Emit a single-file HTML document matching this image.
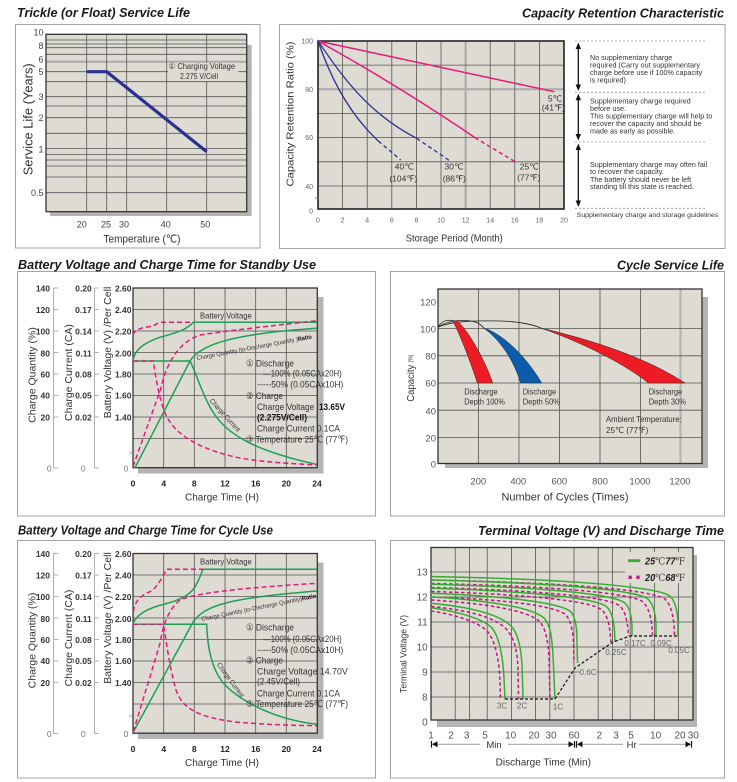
<!DOCTYPE html>
<html><head><meta charset="utf-8"><style>
html,body{margin:0;padding:0;background:#fff;}
svg{display:block;}
text{font-family:"Liberation Sans","DejaVu Sans","Noto Sans CJK JP",sans-serif;}
.ttl{font-size:13px;font-weight:bold;font-style:italic;fill:#1a1a1a;}
</style></head><body>
<svg width="737" height="782" viewBox="0 0 737 782" xmlns="http://www.w3.org/2000/svg">
<rect width="737" height="782" fill="#fff"/>

<!-- panels first -->
<rect x="15.5" y="24.5" width="244.5" height="223.5" fill="#fff" stroke="#a3a3a3"/>
<rect x="279.5" y="24.5" width="445.5" height="224" fill="#fff" stroke="#a3a3a3"/>
<rect x="17.5" y="271.5" width="358" height="244.5" fill="#fff" stroke="#a3a3a3"/>
<rect x="390.5" y="271.5" width="334" height="244.5" fill="#fff" stroke="#a3a3a3"/>
<rect x="17.5" y="540.5" width="358" height="237.5" fill="#fff" stroke="#a3a3a3"/>
<rect x="390.5" y="540.5" width="334" height="237.5" fill="#fff" stroke="#a3a3a3"/>

<!-- titles -->
<text class="ttl" x="17" y="17" textLength="173" lengthAdjust="spacingAndGlyphs">Trickle (or Float) Service Life</text>
<text class="ttl" x="724" y="17.5" text-anchor="end" textLength="202" lengthAdjust="spacingAndGlyphs">Capacity Retention Characteristic</text>
<text class="ttl" x="18" y="269" textLength="298" lengthAdjust="spacingAndGlyphs">Battery Voltage and Charge Time for Standby Use</text>
<text class="ttl" x="724" y="269.5" text-anchor="end" textLength="107" lengthAdjust="spacingAndGlyphs">Cycle Service Life</text>
<text class="ttl" x="18" y="534.5" textLength="255" lengthAdjust="spacingAndGlyphs">Battery Voltage and Charge Time for Cycle Use</text>
<text class="ttl" x="724" y="535" text-anchor="end" textLength="246" lengthAdjust="spacingAndGlyphs">Terminal Voltage (V) and Discharge Time</text>

<!-- ============ CHART 1 ============ -->
<rect x="50" y="45" width="201.7" height="171" fill="#b4b4b4"/>
<rect x="46" y="34.3" width="200.7" height="177.4" fill="#dedbd3"/>
<path d="M46 61.7H246.7" stroke="#a9a9a9" stroke-width="2"/>
<path d="M46 40H246.7M46 44H246.7M46 47.7H246.7M46 54.3H246.7M46 71.7H246.7M46 81.7H246.7M46 96.7H246.7M46 106H246.7M46 117.7H246.7M46 133.3H246.7M46 148.5H246.7M46 154.5H246.7M46 160H246.7M46 166H246.7M46 177H246.7M46 192.7H246.7M86.7 34.3V211.7M106.7 34.3V211.7M126.7 34.3V211.7M166.7 34.3V211.7M206.7 34.3V211.7" stroke="#555" stroke-width="0.8" fill="none"/>
<rect x="46" y="34.3" width="200.7" height="177.4" fill="none" stroke="#333" stroke-width="1.3"/>
<rect x="168" y="62.7" width="70.5" height="18.3" fill="#dedbd3"/>
<text x="168.5" y="68.8" font-size="8.5" fill="#333" textLength="66.5" lengthAdjust="spacingAndGlyphs">① Charging Voltage</text>
<text x="180" y="78.8" font-size="8.5" fill="#333" textLength="38" lengthAdjust="spacingAndGlyphs">2.275 V/Cell</text>
<polyline points="86.7,71.7 106.7,71.7 206.7,151.7" fill="none" stroke="#2b3090" stroke-width="3.2"/>
<g font-size="9" fill="#444" text-anchor="end">
<text x="43.5" y="35.5">10</text><text x="43.5" y="48.9">8</text><text x="43.5" y="62.5">6</text><text x="43.5" y="74.9">5</text><text x="43.5" y="100">3</text><text x="43.5" y="121">2</text><text x="43.5" y="152.3">1</text><text x="43.5" y="196">0.5</text>
</g>
<g font-size="9" fill="#444" text-anchor="middle">
<text x="81.7" y="227.5">20</text><text x="106" y="227.5">25</text><text x="124" y="227.5">30</text><text x="165.7" y="227.5">40</text><text x="205.3" y="227.5">50</text>
</g>
<text x="142" y="242.3" font-size="11" fill="#333" text-anchor="middle" textLength="77" lengthAdjust="spacingAndGlyphs">Temperature (℃)</text>
<text transform="translate(32.6,119.3) rotate(-90)" font-size="12.5" fill="#333" text-anchor="middle" textLength="112" lengthAdjust="spacingAndGlyphs">Service Life (Years)</text>

<!-- ============ CHART 2 ============ -->
<rect x="318" y="41" width="246" height="168" fill="#dedbd3"/>
<path d="M318 89.3H564M465.6 41V209" stroke="#aaa" stroke-width="2"/>
<path d="M318 65.1H564M318 113.4H564M318 137.6H564M318 161.8H564M318 186H564M342.6 41V209M367.2 41V209M391.8 41V209M416.4 41V209M441 41V209M490.2 41V209M514.8 41V209M539.4 41V209" stroke="#555" stroke-width="0.8" fill="none"/>
<rect x="318" y="41" width="246" height="168" fill="none" stroke="#222" stroke-width="1.6"/>
<g fill="none" stroke-width="1.5">
<path d="M318,41 L554.3,91.7" stroke="#e8177d"/>
<path d="M318,41 C370,70 420,100 475,137.7" stroke="#e8177d"/>
<path d="M475,137.7 L515,161.7" stroke="#e8177d" stroke-dasharray="4,3"/>
<path d="M318,41 C338,70 365,112 416.7,138.3" stroke="#2e3192" stroke-width="1.3"/>
<path d="M416.7,138.3 L450,161" stroke="#2e3192" stroke-width="1.3" stroke-dasharray="4,3"/>
<path d="M318,41 C328,70 345,110 378.3,141" stroke="#2e3192" stroke-width="1.3"/>
<path d="M378.3,141 L400.7,160" stroke="#2e3192" stroke-width="1.3" stroke-dasharray="4,3"/>
</g>
<g font-size="8.5" fill="#333" text-anchor="middle">
<text x="555" y="101.3">5℃</text><text x="553.3" y="110.3">(41℉)</text>
<text x="404.3" y="169.7">40℃</text><text x="403.3" y="181.3">(104℉)</text>
<text x="454" y="169.7">30℃</text><text x="454.3" y="181.3">(86℉)</text>
<text x="529.3" y="169.7">25℃</text><text x="528.7" y="180.3">(77℉)</text>
</g>
<g font-size="7" fill="#666" text-anchor="end">
<text x="313" y="43.5">100</text><text x="313" y="91.8">80</text><text x="313" y="140">60</text><text x="313" y="189">40</text><text x="313" y="213.5">0</text>
</g>
<text x="316.5" y="200.5" font-size="7" fill="#888" text-anchor="middle">≈</text>
<g font-size="7" fill="#666" text-anchor="middle">
<text x="318" y="222.5">0</text><text x="342.6" y="222.5">2</text><text x="367.2" y="222.5">4</text><text x="391.8" y="222.5">6</text><text x="416.4" y="222.5">8</text><text x="441" y="222.5">10</text><text x="465.6" y="222.5">12</text><text x="490.2" y="222.5">14</text><text x="514.8" y="222.5">16</text><text x="539.4" y="222.5">18</text><text x="564" y="222.5">20</text>
</g>
<text x="454.3" y="241.5" font-size="10.5" fill="#333" text-anchor="middle" textLength="97" lengthAdjust="spacingAndGlyphs">Storage Period (Month)</text>
<text transform="translate(293.5,114) rotate(-90)" font-size="10.5" fill="#333" text-anchor="middle" textLength="145" lengthAdjust="spacingAndGlyphs">Capacity Retention Ratio (%)</text>
<path d="M575 41H707M575 92.3H707M575 142H707M575 208.3H707" stroke="#999" stroke-width="0.8" stroke-dasharray="2,2"/>
<path d="M578.3 46V88M578.3 97V137M578.3 147V203" stroke="#111" stroke-width="1.3"/>
<g fill="#111">
<polygon points="578.3,42.5 575.6,49 581,49"/><polygon points="578.3,91 575.6,84.5 581,84.5"/>
<polygon points="578.3,93.8 575.6,100.3 581,100.3"/><polygon points="578.3,140.5 575.6,134 581,134"/>
<polygon points="578.3,143.5 575.6,150 581,150"/><polygon points="578.3,207 575.6,200.5 581,200.5"/>
</g>
<g font-size="7.2" fill="#333">
<text x="590" y="59.8">No supplementary charge</text>
<text x="590" y="67.5" textLength="110" lengthAdjust="spacingAndGlyphs">required (Carry out supplementary</text>
<text x="590" y="75.2">charge before use if 100% capacity</text>
<text x="590" y="82.5">is required)</text>
<text x="590" y="103.5">Supplementary charge required</text>
<text x="590" y="111.2">before use.</text>
<text x="590" y="118.5">This supplementary charge will help to</text>
<text x="590" y="125.8">recover  the capacity and should be</text>
<text x="590" y="133.5">made as early as possible.</text>
<text x="590" y="166.8">Supplementary charge may often fail</text>
<text x="590" y="174.2">to recover the capacity.</text>
<text x="590" y="181.8">The battery should never be left</text>
<text x="590" y="189.2">standing till this state is reached.</text>
</g>
<text x="576.7" y="217" font-size="6" fill="#333" textLength="141.7" lengthAdjust="spacingAndGlyphs">Supplementary charge and storage guidelines</text>

<!-- ============ CHART 3 (Standby) ============ -->
<g>
<rect x="138" y="297" width="185.5" height="176.5" fill="#b4b4b4"/>
<rect x="133" y="288" width="184.3" height="179.7" fill="#dedbd3"/>
<path d="M163.7 288V467.7M194.3 288V467.7M225 288V467.7M255.7 288V467.7M286.3 288V467.7M133 309.5H317.3M133 331H317.3M133 352.5H317.3M133 374H317.3M133 395.5H317.3M133 417H317.3M133 438.5H317.3" stroke="#555" stroke-width="0.8" fill="none"/>
<rect x="133" y="288" width="184.3" height="179.7" fill="none" stroke="#333" stroke-width="1.3"/>
<path d="M53.5 288V468M53.5 288H58.5M53.5 309.5H58.5M53.5 331H58.5M53.5 352.5H58.5M53.5 374H58.5M53.5 395.5H58.5M53.5 417H58.5M53.5 468H58.5M94.5 288V468M94.5 288H99M94.5 309.5H99M94.5 331H99M94.5 352.5H99M94.5 374H99M94.5 395.5H99M94.5 417H99M94.5 468H99" stroke="#9a9a9a" stroke-width="0.8" fill="none"/>
<g font-size="8.5" font-weight="bold" fill="#333" text-anchor="end">
<text x="50" y="291.3">140</text><text x="50" y="313">120</text><text x="50" y="334.7">100</text><text x="50" y="356.3">80</text><text x="50" y="377.3">60</text><text x="50" y="398.7">40</text><text x="50" y="420.3">20</text>
<text x="91.7" y="291.3">0.20</text><text x="91.7" y="313">0.17</text><text x="91.7" y="334.7">0.14</text><text x="91.7" y="356.3">0.11</text><text x="91.7" y="377.3">0.08</text><text x="91.7" y="398.7">0.05</text><text x="91.7" y="420.3">0.02</text>
<text x="131.5" y="291.3">2.60</text><text x="131.5" y="313">2.40</text><text x="131.5" y="334.7">2.20</text><text x="131.5" y="356.3">2.00</text><text x="131.5" y="377.3">1.80</text><text x="131.5" y="398.7">1.60</text><text x="131.5" y="420.3">1.40</text>
</g>
<g font-size="8.5" fill="#777" text-anchor="middle">
<text x="49.3" y="471.3">0</text><text x="83.3" y="471.3">0</text><text x="126" y="471.3">0</text>
</g>
<text x="131" y="455" font-size="7" fill="#888" text-anchor="middle">≈</text>
<g font-size="8.5" font-weight="bold" fill="#222" text-anchor="middle">
<text x="133" y="486.5">0</text><text x="163.7" y="486.5">4</text><text x="194.3" y="486.5">8</text><text x="225" y="486.5">12</text><text x="255.7" y="486.5">16</text><text x="286.3" y="486.5">20</text><text x="317" y="486.5">24</text>
</g>
<text x="222" y="500.5" font-size="10" fill="#333" text-anchor="middle" textLength="74" lengthAdjust="spacingAndGlyphs">Charge Time (H)</text>
<text transform="translate(35.5,375) rotate(-90)" font-size="10.5" fill="#333" text-anchor="middle">Charge Quantity (%)</text>
<text transform="translate(72,372.5) rotate(-90)" font-size="10.5" fill="#333" text-anchor="middle">Charge Current (CA)</text>
<text transform="translate(110.8,352.5) rotate(-90)" font-size="10.5" fill="#333" text-anchor="middle" textLength="131.6" lengthAdjust="spacingAndGlyphs">Battery Voltage (V) /Per Cell</text>
</g>

<g fill="none" stroke-width="1.5">
<path d="M133,360 C135,350 143,343 160,337.3 C175,333 185,331 193.3,322.3 L317,322.3" stroke="#1f9e55"/>
<path d="M133,361 L190,361 C196,372 203,398 215,415 C230,437 260,452 317,464.5" stroke="#1f9e55"/>
<path d="M135,467.7 L190,361 C200,345 230,334 317,328.3" stroke="#1f9e55"/>
<path d="M133,335 C134,330 140,328 150,326.5 C155,326 157,323 160,322.3 L193,322.3" stroke="#e8197e" stroke-dasharray="5,3"/>
<path d="M133,466.7 L161,388 C166,365 178,342 200,335 C233,330 270,326 317,320.7" stroke="#e8197e" stroke-dasharray="5,3"/>
<path d="M133,361 L153.3,361 C156,380 161,410 170,422 C182,440 210,452 240,458 C270,463 300,464 317,465" stroke="#e8197e" stroke-dasharray="5,3"/>
</g>
<text x="200" y="318.7" font-size="8.5" fill="#333" textLength="51.7" lengthAdjust="spacingAndGlyphs">Battery Voltage</text>
<text transform="translate(197,360) rotate(-10.6)" font-size="6" fill="#333" textLength="117" lengthAdjust="spacingAndGlyphs">Charge Quantity (to-Discharge Quantity )<tspan font-weight="bold" fill="#111">Ratio</tspan></text>
<text transform="translate(223.3,416.7) rotate(48)" font-size="7" fill="#333" text-anchor="middle" textLength="42" lengthAdjust="spacingAndGlyphs">Charge Current</text>
<g font-size="9.5" fill="#333">
<text x="246" y="366.6" textLength="48" lengthAdjust="spacingAndGlyphs">① Discharge</text>
<text x="263" y="376.6" textLength="78.7" lengthAdjust="spacingAndGlyphs">—100% (0.05CAx20H)</text>
<text x="257.3" y="387.6" textLength="86" lengthAdjust="spacingAndGlyphs">-----50% (0.05CAx10H)</text>
<text x="246" y="399" textLength="37" lengthAdjust="spacingAndGlyphs">② Charge</text>
<text x="257" y="410" textLength="57.3" lengthAdjust="spacingAndGlyphs">Charge Voltage</text>
<text x="319" y="410" font-weight="bold" fill="#111" textLength="26" lengthAdjust="spacingAndGlyphs">13.65V</text>
<text x="257" y="420.6" font-weight="bold" fill="#111" textLength="50" lengthAdjust="spacingAndGlyphs">(2.275V/Cell)</text>
<text x="257" y="431.6" textLength="83" lengthAdjust="spacingAndGlyphs">Charge Current 0.1CA</text>
<text x="246" y="442.3" textLength="102" lengthAdjust="spacingAndGlyphs">③ Temperature 25℃ (77℉)</text>
</g>

<!-- ============ CHART 4 (Cycle Service Life) ============ -->
<rect x="445" y="297" width="263" height="171" fill="#b4b4b4"/>
<rect x="438" y="289" width="264" height="174.5" fill="#dedbd3"/>
<path d="M680.5 289V463.5" stroke="#b3b3b3" stroke-width="2.2"/>
<path d="M478.5 289V463.5M519 289V463.5M559.5 289V463.5M600 289V463.5M640.5 289V463.5M438 328.6H702M438 355.8H702M438 383H702M438 410.2H702M438 437.4H702" stroke="#555" stroke-width="0.8" fill="none"/>
<rect x="438" y="289" width="264" height="174.5" fill="none" stroke="#333" stroke-width="1.3"/>
<g fill="none" stroke="#222" stroke-width="0.8">
<path d="M438.3,327 C441,322 446,319.5 453,320.5"/>
<path d="M438.3,327 C450,319 468,319 478,323 C481,325 483,327 485,329"/>
<path d="M438.3,327 C452,321 475,320.5 500,321 C520,321.5 535,325 543.3,329"/>
</g>
<path d="M452.7,320.7 C458,330 470,360 477.3,383 L492.7,383 C485,360 468,330 457,320.7 Z" fill="#ed1c24" stroke="#222" stroke-width="0.5"/>
<path d="M485,329 C497,338 512,355 520.7,383 L541.7,383 C528,360 508,338 487,329 Z" fill="#0b5cad" stroke="#222" stroke-width="0.5"/>
<path d="M543.3,329 C570,338 620,360 648.3,383 L685,383 C650,360 600,342 545,329 Z" fill="#ed1c24" stroke="#222" stroke-width="0.5"/>
<g font-size="9.5" fill="#555" text-anchor="end">
<text x="436" y="305.3">120</text><text x="436" y="332.3">100</text><text x="436" y="359.3">80</text><text x="436" y="386.3">60</text><text x="436" y="414.3">40</text><text x="436" y="441.3">20</text><text x="436" y="467.3">0</text>
</g>
<g font-size="9.5" fill="#555" text-anchor="middle">
<text x="478.3" y="484.3">200</text><text x="518.3" y="484.3">400</text><text x="559.3" y="484.3">600</text><text x="600" y="484.3">800</text><text x="640" y="484.3">1000</text><text x="680" y="484.3">1200</text>
</g>
<text x="565" y="500.7" font-size="11" fill="#333" text-anchor="middle" textLength="127" lengthAdjust="spacingAndGlyphs">Number of Cycles (Times)</text>
<text transform="translate(413.8,401.7) rotate(-90)" font-size="10.5" fill="#333" textLength="37" lengthAdjust="spacingAndGlyphs">Capacity</text>
<text transform="translate(412.5,362.5) rotate(-90)" font-size="6" fill="#333" textLength="8" lengthAdjust="spacingAndGlyphs">(%)</text>
<g font-size="8.5" fill="#333">
<text x="464.3" y="394.7" textLength="33.4" lengthAdjust="spacingAndGlyphs">Discharge</text>
<text x="464.3" y="404.7" textLength="40.7" lengthAdjust="spacingAndGlyphs">Depth 100%</text>
<text x="522.7" y="394.7" textLength="33.4" lengthAdjust="spacingAndGlyphs">Discharge</text>
<text x="522.7" y="404.7" textLength="37.3" lengthAdjust="spacingAndGlyphs">Depth 50%</text>
<text x="648.7" y="394.7" textLength="33.4" lengthAdjust="spacingAndGlyphs">Discharge</text>
<text x="648.7" y="404.7" textLength="37.3" lengthAdjust="spacingAndGlyphs">Depth 30%</text>
<text x="606" y="422" textLength="75.7" lengthAdjust="spacingAndGlyphs">Ambient Temperature:</text>
<text x="606" y="433" textLength="42.3" lengthAdjust="spacingAndGlyphs">25℃  (77℉)</text>
</g>

<!-- ============ CHART 5 (Cycle Use) ============ -->
<g transform="translate(0,265.5)">
<rect x="138" y="297" width="185.5" height="176.5" fill="#b4b4b4"/>
<rect x="133" y="288" width="184.3" height="179.7" fill="#dedbd3"/>
<path d="M163.7 288V467.7M194.3 288V467.7M225 288V467.7M255.7 288V467.7M286.3 288V467.7M133 309.5H317.3M133 331H317.3M133 352.5H317.3M133 374H317.3M133 395.5H317.3M133 417H317.3M133 438.5H317.3" stroke="#555" stroke-width="0.8" fill="none"/>
<rect x="133" y="288" width="184.3" height="179.7" fill="none" stroke="#333" stroke-width="1.3"/>
<path d="M53.5 288V468M53.5 288H58.5M53.5 309.5H58.5M53.5 331H58.5M53.5 352.5H58.5M53.5 374H58.5M53.5 395.5H58.5M53.5 417H58.5M53.5 468H58.5M94.5 288V468M94.5 288H99M94.5 309.5H99M94.5 331H99M94.5 352.5H99M94.5 374H99M94.5 395.5H99M94.5 417H99M94.5 468H99" stroke="#9a9a9a" stroke-width="0.8" fill="none"/>
<g font-size="8.5" font-weight="bold" fill="#333" text-anchor="end">
<text x="50" y="291.3">140</text><text x="50" y="313">120</text><text x="50" y="334.7">100</text><text x="50" y="356.3">80</text><text x="50" y="377.3">60</text><text x="50" y="398.7">40</text><text x="50" y="420.3">20</text>
<text x="91.7" y="291.3">0.20</text><text x="91.7" y="313">0.17</text><text x="91.7" y="334.7">0.14</text><text x="91.7" y="356.3">0.11</text><text x="91.7" y="377.3">0.08</text><text x="91.7" y="398.7">0.05</text><text x="91.7" y="420.3">0.02</text>
<text x="131.5" y="291.3">2.60</text><text x="131.5" y="313">2.40</text><text x="131.5" y="334.7">2.20</text><text x="131.5" y="356.3">2.00</text><text x="131.5" y="377.3">1.80</text><text x="131.5" y="398.7">1.60</text><text x="131.5" y="420.3">1.40</text>
</g>
<g font-size="8.5" fill="#777" text-anchor="middle">
<text x="49.3" y="471.3">0</text><text x="83.3" y="471.3">0</text><text x="126" y="471.3">0</text>
</g>
<text x="131" y="453" font-size="7" fill="#888" text-anchor="middle">≈</text>
<g font-size="8.5" font-weight="bold" fill="#222" text-anchor="middle">
<text x="133" y="486.5">0</text><text x="163.7" y="486.5">4</text><text x="194.3" y="486.5">8</text><text x="225" y="486.5">12</text><text x="255.7" y="486.5">16</text><text x="286.3" y="486.5">20</text><text x="317" y="486.5">24</text>
</g>
<text x="222" y="500.5" font-size="10" fill="#333" text-anchor="middle" textLength="74" lengthAdjust="spacingAndGlyphs">Charge Time (H)</text>
<text transform="translate(35.5,375) rotate(-90)" font-size="10.5" fill="#333" text-anchor="middle">Charge Quantity (%)</text>
<text transform="translate(72,372.5) rotate(-90)" font-size="10.5" fill="#333" text-anchor="middle">Charge Current (CA)</text>
<text transform="translate(110.8,352.5) rotate(-90)" font-size="10.5" fill="#333" text-anchor="middle" textLength="131.6" lengthAdjust="spacingAndGlyphs">Battery Voltage (V) /Per Cell</text>
</g>
<g fill="none" stroke-width="1.5">
<path d="M133,623.5 C137,614 148,608 165,604 C180,600 190,595 195,587 C199,580 201,574 203,569.3 L317,569.3" stroke="#1f9e55"/>
<path d="M133,624.3 L206.7,624.3 C207.5,650 213,672 225,685 C245,705 280,720 317,724.3" stroke="#1f9e55"/>
<path d="M133.3,732 L193.3,621.7 C205,605 230,598 317,591" stroke="#1f9e55"/>
<path d="M133.3,611.7 C135,600 142,595 150,591.7 C156,589 162,578 166.7,569.3 L203,569.3" stroke="#e8197e" stroke-dasharray="5,3"/>
<path d="M133.3,731.7 L160,643.6 C163,625 168,610 180,600 C195,593 240,588 317,583.3" stroke="#e8197e" stroke-dasharray="5,3"/>
<path d="M133.3,624.3 L163.3,624.3 C166,640 170,670 176,690 C183,710 200,717 235,722 C270,725 300,725.5 317,725.7" stroke="#e8197e" stroke-dasharray="5,3"/>
</g>
<text x="200" y="564.7" font-size="8.5" fill="#333" textLength="51.7" lengthAdjust="spacingAndGlyphs">Battery Voltage</text>
<text transform="translate(201.7,621) rotate(-11.5)" font-size="6" fill="#333" textLength="117" lengthAdjust="spacingAndGlyphs">Charge Quantity (to-Discharge Quantity)<tspan font-weight="bold" fill="#111">Ratio</tspan></text>
<text transform="translate(228.7,681.3) rotate(53.7)" font-size="7" fill="#333" text-anchor="middle" textLength="41" lengthAdjust="spacingAndGlyphs">Charge Current</text>
<g font-size="9.5" fill="#333">
<text x="246" y="630.7" textLength="48" lengthAdjust="spacingAndGlyphs">① Discharge</text>
<text x="263" y="642" textLength="78.7" lengthAdjust="spacingAndGlyphs">—100% (0.05CAx20H)</text>
<text x="257.3" y="653" textLength="86" lengthAdjust="spacingAndGlyphs">-----50% (0.05CAx10H)</text>
<text x="246" y="663.7" textLength="37" lengthAdjust="spacingAndGlyphs">② Charge</text>
<text x="257" y="674.7" textLength="90.7" lengthAdjust="spacingAndGlyphs">Charge Voltage 14.70V</text>
<text x="257" y="684.7" textLength="43" lengthAdjust="spacingAndGlyphs">(2.45V/Cell)</text>
<text x="257" y="696.3" textLength="83" lengthAdjust="spacingAndGlyphs">Charge Current 0.1CA</text>
<text x="246" y="707" textLength="102" lengthAdjust="spacingAndGlyphs">③ Temperature 25℃ (77℉)</text>
</g>

<!-- ============ CHART 6 (Terminal Voltage) ============ -->
<rect x="437" y="555" width="260" height="172" fill="#b4b4b4"/>
<rect x="431" y="547.5" width="262" height="172.5" fill="#dedbd3"/>
<path d="M431 572H693M431 597H693M431 622H693M431 647H693M431 672H693M431 697H693M455.2 547.5V720M469.4 547.5V720M487.2 547.5V720M511.4 547.5V720M535.6 547.5V720M549.8 547.5V720M574 547.5V720M598.2 547.5V720M612.4 547.5V720M630.2 547.5V720M654.4 547.5V720M678.6 547.5V720" stroke="#555" stroke-width="0.8" fill="none"/>
<rect x="431" y="547.5" width="262" height="172.5" fill="none" stroke="#333" stroke-width="1.3"/>
<rect x="625" y="552" width="67" height="31" fill="#dedbd3"/>
<g fill="none" stroke="#c2187f" stroke-width="1.5" stroke-dasharray="3.5,2.5">
<path d="M431,611 C452,614 477,621 487,631 C496,641 499,662 500,680 L500.5,699"/>
<path d="M431,606.5 C467,610 496,617 507,630 C515,639 517,652 518,667 L518.5,699"/>
<path d="M431,600 C478,603 525,609 539,621 C546,628 548,642 549,657 L550,699"/>
<path d="M431,597 C497,599 555,605 566,615 C571,621 573,632 573.5,642 L574,663"/>
<path d="M431,591.5 C517,594 590,600 602,610 C608,616 609.5,627 610,632 L611,642"/>
<path d="M431,587.5 C527,590 607,596 620,606 C626,612 627,623 628,628 L628.5,636"/>
<path d="M431,583.5 C542,586 630,592 643,602 C650,609 651,620 652,626 L652.5,636"/>
<path d="M431,580 C557,582.5 650,589 665,599 C672,606 673,618 674,624 L674.5,636"/>
</g>
<g fill="none" stroke="#3aaa35" stroke-width="1.5">
<path d="M431,607.7 C455,611 482,618 492,628 C500,638 503,660 504,678 L505,699"/>
<path d="M431,603.3 C470,607 500,614 512,627 C519,636 521,650 522,665 L523,699"/>
<path d="M431,596.7 C480,600 530,606 544,618 C551,625 552,640 553,655 L555,699"/>
<path d="M431,593.3 C500,596 560,602 571,612 C576,618 577,630 577,640 L577.5,663"/>
<path d="M431,588.3 C520,591 595,597 607,607 C613,613 614,625 614.5,630 L615,642"/>
<path d="M431,584.3 C530,587 612,593 625,603 C631,609 631.5,620 632,625 L632,636"/>
<path d="M431,580 C545,583 635,589 648,599 C655,606 655.5,618 656,624 L656,636"/>
<path d="M431,576.5 C560,579 655,586 670,596 C677,603 677.5,616 678,622 L678,636"/>
</g>
<path d="M505,699 L555,699 L575,668 L613,642 L630,636 L678,636" fill="none" stroke="#111" stroke-width="1.2" stroke-dasharray="3,2"/>
<rect x="580" y="667" width="16" height="9" fill="#dedbd3"/>
<g font-size="8" fill="#666" text-anchor="middle">
<text x="502" y="708.5">3C</text><text x="522" y="708.5">2C</text><text x="558" y="709.5">1C</text>
<text x="588" y="675">0.6C</text><text x="616" y="655">0.25C</text><text x="635" y="646">0.17C</text><text x="661" y="646">0.09C</text><text x="679" y="653">0.05C</text>
</g>
<text x="431" y="706.5" font-size="7" fill="#888" text-anchor="middle">≈</text>
<path d="M628 560.7H640.3" stroke="#3aaa35" stroke-width="2.8"/>
<path d="M628.5 577.3H641" stroke="#c2187f" stroke-width="3.3" stroke-dasharray="3.3,4.5"/>
<text x="645" y="564.3" font-size="10" fill="#222" textLength="40" lengthAdjust="spacingAndGlyphs"><tspan font-weight="bold" font-style="italic">25</tspan><tspan font-family="Liberation Serif, DejaVu Serif, serif" fill="#444">℃</tspan><tspan font-weight="bold" font-style="italic">77</tspan><tspan font-family="Liberation Serif, DejaVu Serif, serif" fill="#444">℉</tspan></text>
<text x="645" y="580.8" font-size="10" fill="#222" textLength="40" lengthAdjust="spacingAndGlyphs"><tspan font-weight="bold" font-style="italic">20</tspan><tspan font-family="Liberation Serif, DejaVu Serif, serif" fill="#444">℃</tspan><tspan font-weight="bold" font-style="italic">68</tspan><tspan font-family="Liberation Serif, DejaVu Serif, serif" fill="#444">℉</tspan></text>
<g font-size="10" fill="#555" text-anchor="end">
<text x="427.7" y="575.5">13</text><text x="427.7" y="600.5">12</text><text x="427.7" y="625.5">11</text><text x="427.7" y="650.5">10</text><text x="427.7" y="675.5">9</text><text x="427.7" y="700.5">8</text><text x="427.7" y="725.5">0</text>
</g>
<g font-size="10" fill="#555" text-anchor="middle">
<text x="431" y="738.5">1</text><text x="451" y="738.5">2</text><text x="466.7" y="738.5">3</text><text x="485" y="738.5">5</text><text x="510.7" y="738.5">10</text><text x="534" y="738.5">20</text><text x="551" y="738.5">30</text><text x="574" y="738.5">60</text><text x="599.3" y="738.5">2</text><text x="616" y="738.5">3</text><text x="631" y="738.5">5</text><text x="655.7" y="738.5">10</text><text x="680" y="738.5">20</text><text x="693.3" y="738.5">30</text>
</g>
<path d="M437 744.3H480M508 744.3H570M582 744.3H623M639 744.3H686" stroke="#aaa" stroke-width="1.2"/>
<path d="M431.5 741V747.6M574.5 741V747.6M576.5 741V747.6M691.5 741V747.6" stroke="#111" stroke-width="1.2"/>
<g fill="#111">
<polygon points="432,744.3 437.5,741.3 437.5,747.3"/>
<polygon points="574,744.3 568.5,741.3 568.5,747.3"/>
<polygon points="577,744.3 582.5,741.3 582.5,747.3"/>
<polygon points="691,744.3 685.5,741.3 685.5,747.3"/>
</g>
<text x="494" y="747.8" font-size="9.5" fill="#333" text-anchor="middle">Min</text>
<text x="631.7" y="747.8" font-size="9.5" fill="#333" text-anchor="middle">Hr</text>
<text x="543.3" y="765.5" font-size="10.5" fill="#333" text-anchor="middle" textLength="95.3" lengthAdjust="spacingAndGlyphs">Discharge Time (Min)</text>
<text transform="translate(406.5,654) rotate(-90)" font-size="9.5" fill="#333" text-anchor="middle" textLength="78" lengthAdjust="spacingAndGlyphs">Terminal Voltage (V)</text>
</svg>
</body></html>
